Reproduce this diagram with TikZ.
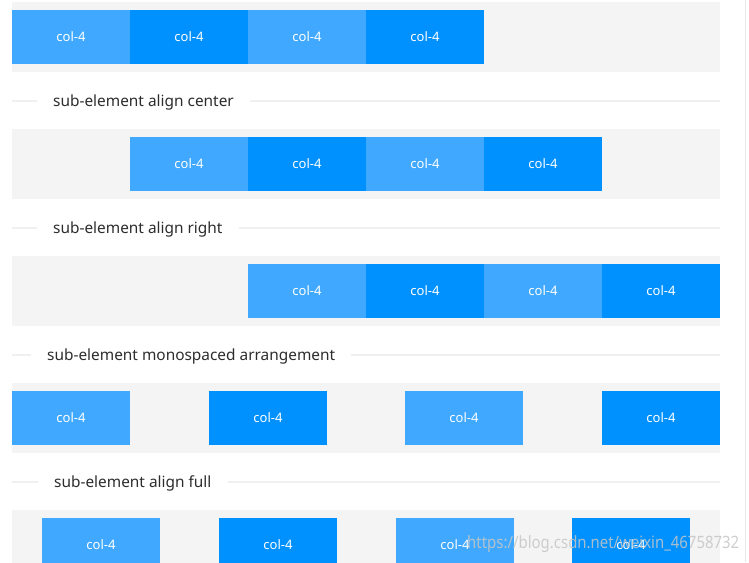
\documentclass[tikz,border=0pt]{standalone}
\usepackage{fontspec}
\setmainfont{Noto Sans}
\definecolor{lightb}{RGB}{64,169,255}
\definecolor{darkb}{RGB}{0,145,255}
\definecolor{rowgray}{RGB}{244,244,244}
\definecolor{divline}{RGB}{240,240,240}
\definecolor{labtext}{RGB}{45,45,45}
\tikzset{
  x=1pt, y=-1pt,
  rowbg/.style={fill=rowgray, draw=none},
  colbox/.style={minimum width=118pt, minimum height=54pt, inner sep=0pt, outer sep=0pt, text=white, font=\fontsize{13}{15}\selectfont},
  lb/.style={colbox, fill=lightb},
  db/.style={colbox, fill=darkb},
  divlab/.style={anchor=west, inner xsep=16pt, inner ysep=0pt, text=labtext, font=\fontsize{15.4}{18}\selectfont},
  divrule/.style={draw=divline, line width=1.5pt}
}
\begin{document}
\begin{tikzpicture}
\useasboundingbox (0,0) rectangle (749,562);
\fill[white] (0,0) rectangle (749,562);
\begin{scope}
\clip (0,0) rectangle (749,562);
% right border line
\draw[draw={rgb,255:red,232;green,232;blue,232}, line width=1pt] (745,0) -- (745,562);

% row 1
\fill[rowbg] (12,2) rectangle (720,72);
\node[lb] (r1a) at (71,37) {col-4};
\node[db] (r1b) at (189,37) {col-4};
\node[lb] (r1c) at (307,37) {col-4};
\node[db] (r1d) at (425,37) {col-4};

% divider 1
\node[divlab] (d1) at (37,102) {sub-element align center};
\coordinate (d1l) at (12,101);
\coordinate (d1r) at (720,101);
\draw[divrule] (d1l) -- (d1l -| d1.west);
\draw[divrule] (d1r -| d1.east) -- (d1r);

% row 2
\fill[rowbg] (12,129) rectangle (720,199);
\node[lb] (r2a) at (189,164) {col-4};
\node[db] (r2b) at (307,164) {col-4};
\node[lb] (r2c) at (425,164) {col-4};
\node[db] (r2d) at (543,164) {col-4};

% divider 2
\node[divlab] (d2) at (37,229) {sub-element align right};
\coordinate (d2l) at (12,228);
\coordinate (d2r) at (720,228);
\draw[divrule] (d2l) -- (d2l -| d2.west);
\draw[divrule] (d2r -| d2.east) -- (d2r);

% row 3
\fill[rowbg] (12,256) rectangle (720,326);
\node[lb] (r3a) at (307,291) {col-4};
\node[db] (r3b) at (425,291) {col-4};
\node[lb] (r3c) at (543,291) {col-4};
\node[db] (r3d) at (661,291) {col-4};

% divider 3
\node[divlab] (d3) at (31,356) {sub-element monospaced arrangement};
\coordinate (d3l) at (12,355);
\coordinate (d3r) at (720,355);
\draw[divrule] (d3l) -- (d3l -| d3.west);
\draw[divrule] (d3r -| d3.east) -- (d3r);

% row 4
\fill[rowbg] (12,383) rectangle (720,453);
\node[lb] (r4a) at (71,418) {col-4};
\node[db] (r4b) at (268,418) {col-4};
\node[lb] (r4c) at (464,418) {col-4};
\node[db] (r4d) at (661,418) {col-4};

% divider 4
\node[divlab] (d4) at (38,483) {sub-element align full};
\coordinate (d4l) at (12,482);
\coordinate (d4r) at (720,482);
\draw[divrule] (d4l) -- (d4l -| d4.west);
\draw[divrule] (d4r -| d4.east) -- (d4r);

% row 5
\fill[rowbg] (12,510) rectangle (720,580);
\node[lb] (r5a) at (101,545) {col-4};
\node[db] (r5b) at (278,545) {col-4};
\node[lb] (r5c) at (455,545) {col-4};
\node[db] (r5d) at (631,545) {col-4};

% watermark
\node[anchor=west, inner sep=0pt, text=gray!45, opacity=0.85, font=\fontsize{17}{19}\selectfont] (wm) at (467,544) {\resizebox{272pt}{\height}{https://blog.csdn.net/weixin\_46758732}};
\end{scope}
\end{tikzpicture}
\end{document}
